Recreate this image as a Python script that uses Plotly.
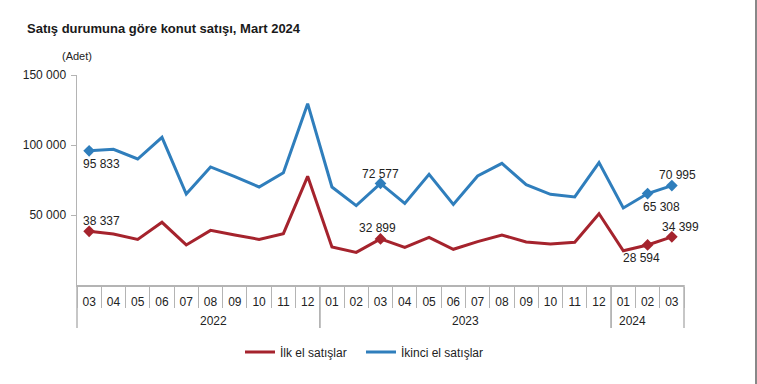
import plotly.graph_objects as go

# ---- data ----
years = ["2022"] * 10 + ["2023"] * 12 + ["2024"] * 3
months = ["03", "04", "05", "06", "07", "08", "09", "10", "11", "12",
          "01", "02", "03", "04", "05", "06", "07", "08", "09", "10", "11", "12",
          "01", "02", "03"]
ilk_el = [38337, 36400, 32600, 44800, 28600, 39000, 35700, 32600, 36700, 77600,
          27100, 23300, 32899, 26900, 34000, 25500, 31000, 35700, 30700, 29300, 30500, 50900,
          24500, 28594, 34399]
ikinci_el = [95833, 96900, 90000, 105500, 65000, 84300, 77400, 70000, 80200, 129500,
             70000, 56700, 72577, 58300, 79000, 57600, 77900, 86900, 71700, 64800, 62900, 87400,
             55000, 65308, 70995]
labelled_idx = [0, 12, 23, 24]
ytick_vals = [50000, 100000, 150000]

# label offsets in pixels (dx right, dy down) for each labelled point
ilk_off = [(12, -10), (-3, -11), (-6, 13), (9, -10)]
ikinci_off = [(12, 13), (0, -9), (14, 13), (6, -11)]

RED = "#A5232D"
BLUE = "#2F7EBC"
AXIS = "#b4b4b4"
FONT = "Arial, Liberation Sans, sans-serif"
NARROW = "Liberation Sans Narrow, Arial Narrow, Arial, Liberation Sans, sans-serif"

# plot-area geometry (pixels)
W, H = 757, 384
L, R, T, B = 77, 73, 75, 99
PW = W - L - R
PH = H - T - B

cats = [f"{y}-{m}" for y, m in zip(years, months)]
n = len(cats)


def fmt(v):
    return f"{v:,}".replace(",", " ")


fig = go.Figure()
for name, vals, offs, col, lg in [("İlk el satışlar", ilk_el, ilk_off, RED, "legend"),
                                  ("İkinci el satışlar", ikinci_el, ikinci_off, BLUE, "legend2")]:
    fig.add_trace(go.Scatter(
        x=cats, y=vals, name=name, mode="lines", legend=lg,
        line=dict(color=col, width=3), hoverinfo="skip",
    ))
    fig.add_trace(go.Scatter(
        x=[cats[i] for i in labelled_idx], y=[vals[i] for i in labelled_idx],
        mode="markers", showlegend=False,
        marker=dict(symbol="diamond", size=9, color=col),
        cliponaxis=False, hoverinfo="skip",
    ))
    for i, (dx, dy) in zip(labelled_idx, offs):
        fig.add_annotation(x=cats[i], y=vals[i], text=fmt(vals[i]), showarrow=False,
                           xshift=dx, yshift=-dy, xanchor="center", yanchor="middle",
                           font=dict(family=FONT, size=12, color="#222222"))

legend_style = dict(orientation="h", xref="container", yref="container",
                    xanchor="left", y=1 - 352 / H, yanchor="middle",
                    font=dict(family=NARROW, size=12, color="#222222"),
                    itemwidth=30, bgcolor="rgba(0,0,0,0)")

fig.update_layout(
    width=W, height=H,
    margin=dict(l=L, r=R, t=T, b=B),
    paper_bgcolor="white", plot_bgcolor="white",
    font=dict(family=FONT, size=12, color="#222222"),
    separators=", ",
    title=dict(text="<b>Satış durumuna göre konut satışı, Mart 2024</b>",
               x=27 / W, xanchor="left", xref="container",
               y=1 - 28 / H, yanchor="middle", yref="container",
               font=dict(family=FONT, size=13, color="#1a1a1a")),
    showlegend=True,
    legend=dict(x=240 / W, **legend_style),
    legend2=dict(x=361 / W, **legend_style),
    hovermode=False,
)
fig.update_xaxes(
    type="category", categoryorder="array", categoryarray=cats,
    range=[-0.5, n - 0.5], tickvals=cats, ticktext=months, tickangle=0,
    showline=True, linecolor=AXIS, linewidth=1.5,
    ticks="outside", tickson="boundaries", ticklen=21, tickcolor=AXIS, tickwidth=1,
    ticklabelstandoff=5,
    showgrid=False, tickfont=dict(family=FONT, size=12, color="#222222"),
)
fig.update_yaxes(
    range=[0, 150000], tickvals=ytick_vals, tickformat=",d",
    showline=True, linecolor=AXIS, linewidth=1.5,
    ticks="outside", ticklen=5, tickcolor=AXIS, ticklabelstandoff=2,
    showgrid=False, zeroline=False,
    tickfont=dict(family=FONT, size=12, color="#222222"),
)

# year groups: dividers and labels beneath the month row
groups = []
for i, y in enumerate(years):
    if not groups or groups[-1][0] != y:
        groups.append([y, i, i])
    else:
        groups[-1][2] = i
div_len = 43 / PH
for y, s, e in groups:
    for b in (s - 0.5, e + 0.5):
        fig.add_shape(type="line", xref="paper", yref="paper",
                      x0=(b + 0.5) / n, x1=(b + 0.5) / n, y0=0, y1=-div_len,
                      line=dict(color=AXIS, width=1.5))
    fig.add_annotation(text=y, xref="paper", yref="paper",
                       x=((s + e) / 2 + 0.5) / n, y=-36 / PH, yanchor="middle",
                       showarrow=False, font=dict(family=FONT, size=12, color="#222222"))

fig.add_annotation(text="(Adet)", xref="paper", yref="paper",
                   x=(60 - L) / PW, xanchor="left", y=(T + PH - 56) / PH, yanchor="middle",
                   showarrow=False, font=dict(family=FONT, size=11, color="#222222"))
fig.add_shape(type="line", xref="paper", yref="paper",
              x0=(756 - L) / PW, x1=(756 - L) / PW,
              y0=-B / PH, y1=(T + PH) / PH,
              line=dict(color="#888888", width=2))

fig.write_html(
    "out.html",
    config={"displayModeBar": False, "staticPlot": True},
    post_script="document.body.style.margin='0';document.body.style.overflow='hidden';",
)
